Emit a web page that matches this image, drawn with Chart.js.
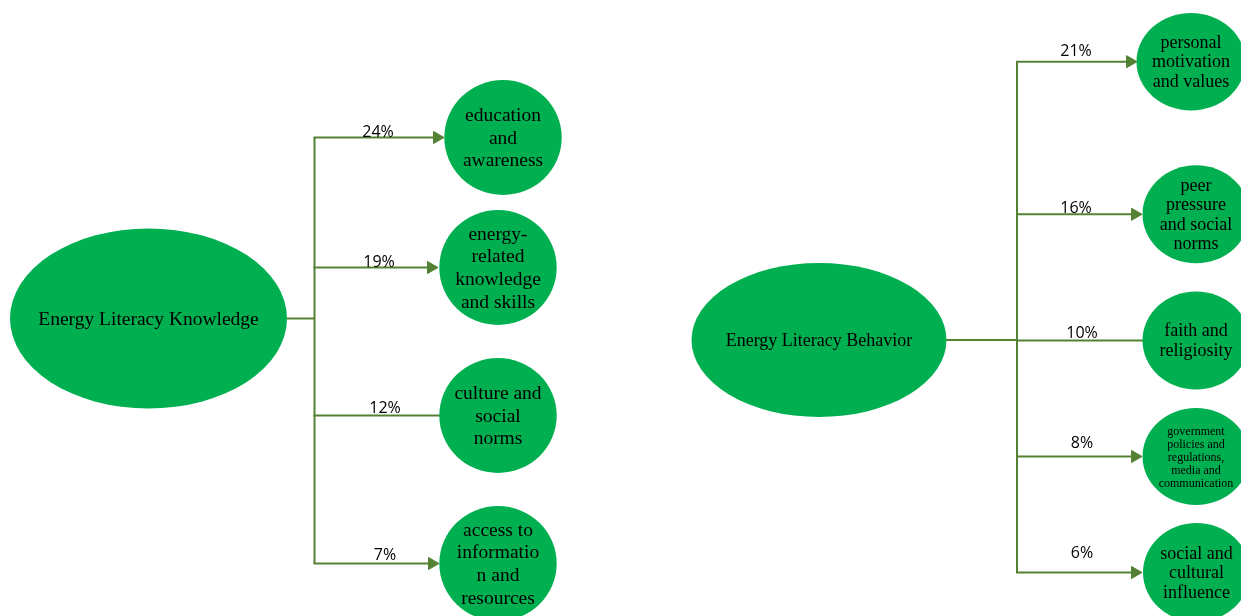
<!DOCTYPE html>
<html lang="en">
<head>
    <meta charset="UTF-8">
    <title>Energy Literacy</title>
    <script src="https://cdn.jsdelivr.net/npm/chart.js"></script>
    <style>
        body { margin: 0; background: #fff; }
        #wrap { width: 1241px; height: 616px; }
    </style>
</head>
<body>
    <div id="wrap"><canvas id="diagram" width="1241" height="616"></canvas></div>
    <script>
        // data
        const leftRoot = 'Energy Literacy Knowledge';
        const leftFactors = [
            ['education', 'and', 'awareness'],
            ['energy-', 'related', 'knowledge', 'and skills'],
            ['culture and', 'social', 'norms'],
            ['access to', 'informatio', 'n and', 'resources']
        ];
        const leftShares = [24, 19, 12, 7];

        const rightRoot = 'Energy Literacy Behavior';
        const rightFactors = [
            ['personal', 'motivation', 'and values'],
            ['peer', 'pressure', 'and social', 'norms'],
            ['faith and', 'religiosity'],
            ['government', 'policies and', 'regulations,', 'media and', 'communication'],
            ['social and', 'cultural', 'influence']
        ];
        const rightShares = [21, 16, 10, 8, 6];

        // layout (diagram units = pixels of the 1241x616 picture)
        const leftTree = {
            root: { x: 148.5, y: 318.5, rx: 138.5, ry: 90, font: 19.5 },
            trunkX: 314.5, hubFrom: 287,
            rows: [137.5, 267.5, 415.5, 563.5],
            tips: [444, 438, 440, 439],
            arrows: [true, true, false, true],
            nodes: [
                { x: 503, rx: 58.7, ry: 57.5 }, { x: 498, rx: 58.7, ry: 57.5 },
                { x: 498, rx: 58.7, ry: 57.5 }, { x: 498, rx: 58.7, ry: 57.5 }
            ],
            nodeFont: 19.5, lineH: 22.7,
            labelX: [378, 379, 385, 385], labelY: [132, 262, 408.5, 555]
        };
        const rightTree = {
            root: { x: 819, y: 340, rx: 127.5, ry: 77, font: 18 },
            trunkX: 1017, hubFrom: 946,
            rows: [61.7, 214.3, 340.5, 456.5, 572.5],
            tips: [1137, 1142, 1143, 1142, 1142],
            arrows: [true, true, false, true, true],
            nodes: [
                { x: 1191, rx: 54.5, ry: 48.7 }, { x: 1196, rx: 53.5, ry: 49 },
                { x: 1196, rx: 53.5, ry: 49 }, { x: 1196, rx: 53.5, ry: 48.5 },
                { x: 1196.5, rx: 53.5, ry: 49.5 }
            ],
            nodeFont: 18, lineH: 19.6, fonts: [18, 18, 18, 12, 18], lineHs: [19.6, 19.3, 20, 13, 19.6],
            labelX: [1076, 1076, 1082, 1082, 1082], labelY: [51, 208.5, 333.5, 443.5, 553.5]
        };

        const GREEN = '#00b050';
        const LINE = '#548235';
        const ARROW_R = 7;

        // connector segments and arrowheads built from the layout
        function treeDatasets(tree) {
            const sets = [];
            const seg = (pts) => sets.push({
                type: 'line', data: pts, borderColor: LINE, borderWidth: 2,
                pointRadius: 0, fill: false, tension: 0
            });
            seg([{ x: tree.hubFrom, y: tree.root.y }, { x: tree.trunkX, y: tree.root.y }]);
            seg([{ x: tree.trunkX, y: tree.rows[0] }, { x: tree.trunkX, y: tree.rows[tree.rows.length - 1] }]);
            const heads = [];
            tree.rows.forEach((y, i) => {
                const end = tree.arrows[i] ? tree.tips[i] - ARROW_R * 1.2 : tree.tips[i];
                seg([{ x: tree.trunkX - 1, y: y }, { x: end, y: y }]);
                if (tree.arrows[i]) heads.push({ x: tree.tips[i] - ARROW_R, y: y });
            });
            sets.push({
                type: 'scatter', data: heads, pointStyle: 'triangle', pointRotation: 90,
                pointRadius: ARROW_R, backgroundColor: LINE, borderColor: LINE, borderWidth: 1
            });
            return sets;
        }

        const nodePlugin = {
            id: 'nodes',
            afterDatasetsDraw(chart) {
                const ctx = chart.ctx;
                const sx = chart.scales.x, sy = chart.scales.y;
                const px = v => sx.getPixelForValue(v);
                const py = v => sy.getPixelForValue(v);
                const ellipse = (x, y, rx, ry) => {
                    const cx = px(x), cy = py(y);
                    ctx.beginPath();
                    ctx.ellipse(cx, cy, Math.abs(px(x + rx) - cx), Math.abs(py(y + ry) - cy), 0, 0, Math.PI * 2);
                    ctx.fillStyle = GREEN;
                    ctx.fill();
                };
                const lines = (x, y, arr, size, lh) => {
                    ctx.fillStyle = '#000';
                    ctx.font = size + 'px "Liberation Serif", "Times New Roman", serif';
                    ctx.textAlign = 'center';
                    ctx.textBaseline = 'middle';
                    const top = y - (arr.length - 1) * lh / 2;
                    arr.forEach((t, i) => ctx.fillText(t, px(x), py(top + i * lh) + 1));
                };
                ctx.save();
                [[leftTree, leftRoot, leftFactors, leftShares], [rightTree, rightRoot, rightFactors, rightShares]]
                    .forEach(([tree, root, factors, shares]) => {
                        ellipse(tree.root.x, tree.root.y, tree.root.rx, tree.root.ry);
                        lines(tree.root.x, tree.root.y, [root], tree.root.font, 0);
                        factors.forEach((f, i) => {
                            const n = tree.nodes[i];
                            ellipse(n.x, tree.rows[i], n.rx, n.ry);
                            const size = tree.fonts ? tree.fonts[i] : tree.nodeFont;
                            const lh = tree.lineHs ? tree.lineHs[i] : tree.lineH;
                            lines(n.x, tree.rows[i], f, size, lh);
                        });
                        ctx.fillStyle = '#000';
                        ctx.font = '16px "Open Sans", sans-serif';
                        ctx.textAlign = 'center';
                        ctx.textBaseline = 'middle';
                        shares.forEach((s, i) => ctx.fillText(s + '%', px(tree.labelX[i]), py(tree.labelY[i])));
                    });
                ctx.restore();
            }
        };

        new Chart(document.getElementById('diagram'), {
            type: 'scatter',
            data: { datasets: [...treeDatasets(leftTree), ...treeDatasets(rightTree)] },
            options: {
                responsive: false,
                devicePixelRatio: 1,
                animation: false,
                layout: { padding: 0, autoPadding: false },
                plugins: { legend: { display: false }, tooltip: { enabled: false } },
                scales: {
                    x: { type: 'linear', min: 0, max: 1241, display: false },
                    y: { type: 'linear', min: 0, max: 616, reverse: true, display: false }
                }
            },
            plugins: [nodePlugin]
        });
    </script>
</body>
</html>
